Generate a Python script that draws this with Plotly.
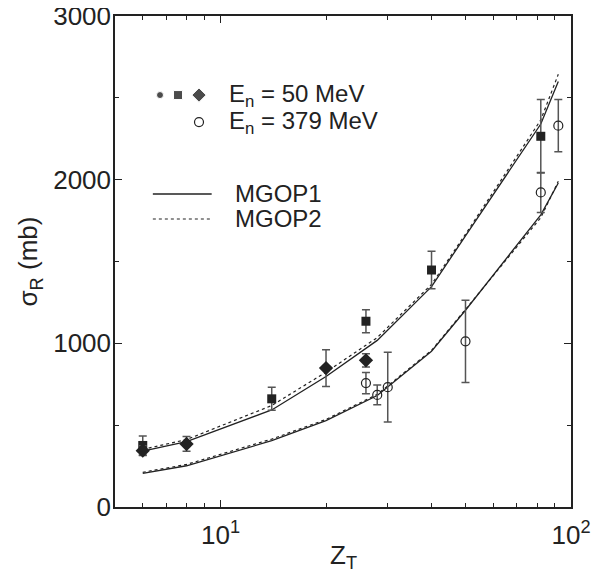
import plotly.graph_objects as go

# ---- data ----
z_dot_50 = [6]
sig_dot_50 = [358]

z_sq_50 = [6, 14, 26, 40, 82]
sig_sq_50 = [376, 661, 1135, 1448, 2265]
err_sq_50 = [58, 70, 70, 115, 225]

z_di_50 = [6, 8, 20, 26]
sig_di_50 = [344, 385, 849, 896]
err_di_50 = [30, 45, 112, 41]

z_ci_379 = [26, 28, 30, 50, 82, 92]
sig_ci_379 = [757, 685, 732, 1012, 1922, 2330]
err_ci_379 = [65, 60, 213, 252, 122, 160]

z_model = [6, 8, 14, 20, 28, 40, 50, 82, 92]
mgop1_50 = [342, 400, 593, 797, 1018, 1346, 1657, 2340, 2600]
mgop2_50 = [352, 412, 620, 824, 1035, 1360, 1667, 2365, 2644]
mgop1_379 = [205, 252, 405, 528, 681, 952, 1202, 1785, 1980]
mgop2_379 = [212, 260, 415, 535, 688, 957, 1207, 1768, 1990]

x_tickvals = [10, 100]
x_ticktext = ["10<sup>1</sup>", "10<sup>2</sup>"]
x_minor = [5, 6, 7, 8, 9, 20, 30, 40, 50, 60, 70, 80, 90]
y_tickvals = [0, 1000, 2000, 3000]

INK = "#222222"
ERR = "#555555"
FONT = "Liberation Sans, Arial, sans-serif"

fig = go.Figure()

# model curves
for y, dash in [(mgop1_50, "solid"), (mgop2_50, "dot"), (mgop1_379, "solid"), (mgop2_379, "dot")]:
    fig.add_trace(go.Scatter(x=z_model, y=y, mode="lines",
                             line=dict(color=INK, width=1.3 if dash == "solid" else 1.2, dash=dash),
                             showlegend=False, hoverinfo="skip"))

def err(e):
    return dict(type="data", array=e, visible=True, color=ERR, thickness=1.5, width=4)

fig.add_trace(go.Scatter(x=z_ci_379, y=sig_ci_379, mode="markers", error_y=err(err_ci_379),
                         marker=dict(symbol="circle-open", size=9, color=INK, line=dict(width=1.2, color=INK)),
                         showlegend=False))
fig.add_trace(go.Scatter(x=z_sq_50, y=sig_sq_50, mode="markers", error_y=err(err_sq_50),
                         marker=dict(symbol="square", size=9, color=INK),
                         showlegend=False))
fig.add_trace(go.Scatter(x=z_di_50, y=sig_di_50, mode="markers", error_y=err(err_di_50),
                         marker=dict(symbol="diamond", size=11, color=INK),
                         showlegend=False))
fig.add_trace(go.Scatter(x=z_dot_50, y=sig_dot_50, mode="markers",
                         marker=dict(symbol="circle", size=7, color=INK),
                         showlegend=False))

# legend (custom) on overlay axes
fig.add_trace(go.Scatter(x=[0.0987, 0.1382, 0.1842], y=[0.839, 0.839, 0.839], mode="markers",
                         marker=dict(symbol=["circle", "square", "diamond"], size=[7, 9, 11], color="#000000"),
                         xaxis="x2", yaxis="y2", showlegend=False, hoverinfo="skip"))
fig.add_trace(go.Scatter(x=[0.1842], y=[0.784], mode="markers",
                         marker=dict(symbol="circle-open", size=9, color=INK, line=dict(width=1.2, color=INK)),
                         xaxis="x2", yaxis="y2", showlegend=False, hoverinfo="skip"))
fig.add_trace(go.Scatter(x=[0.083, 0.212], y=[0.6375, 0.6375], mode="lines",
                         line=dict(color=INK, width=1.3), xaxis="x2", yaxis="y2",
                         showlegend=False, hoverinfo="skip"))
fig.add_trace(go.Scatter(x=[0.083, 0.212], y=[0.5866, 0.5866], mode="lines",
                         line=dict(color=INK, width=1.2, dash="dot"), xaxis="x2", yaxis="y2",
                         showlegend=False, hoverinfo="skip"))

ann_font = dict(family=FONT, size=24, color=INK)
for txt, x, y in [("E<sub>n</sub> = 50 MeV", 0.2456, 0.839),
                  ("E<sub>n</sub> = 379 MeV", 0.2456, 0.784),
                  ("MGOP1", 0.2588, 0.6375),
                  ("MGOP2", 0.2588, 0.5866)]:
    fig.add_annotation(x=x, y=y, xref="x2", yref="y2", text=txt, showarrow=False,
                       xanchor="left", yanchor="middle", font=ann_font)

# x-axis title as annotation (placed just under the tick labels)
fig.add_annotation(x=0.5, y=-0.1, xref="paper", yref="paper", text="Z<sub>T</sub>",
                   showarrow=False, xanchor="center", yanchor="middle",
                   font=dict(family=FONT, size=26, color=INK))

axis_common = dict(showline=True, linecolor=INK, linewidth=1.5, mirror="allticks",
                   ticks="inside", tickcolor=INK, tickwidth=1.3, showgrid=False, zeroline=False,
                   automargin=False, ticklabeloverflow="allow",
                   tickfont=dict(family=FONT, size=26, color=INK))

fig.update_layout(
    width=615, height=573,
    margin=dict(l=107, r=52, t=8, b=74),
    paper_bgcolor="white", plot_bgcolor="white",
    font=dict(family=FONT, size=26, color=INK),
    xaxis=dict(type="log", range=[0.69897, 2], tickvals=x_tickvals, ticktext=x_ticktext,
               ticklen=7, ticklabelstandoff=4,
               minor=dict(tickvals=x_minor, ticks="inside", ticklen=4, tickcolor=INK, tickwidth=1.2),
               **axis_common),
    yaxis=dict(range=[0, 3000], tickvals=y_tickvals, ticklen=7, ticklabelstandoff=-3,
               minor=dict(dtick=500, ticks="inside", ticklen=4, tickcolor=INK, tickwidth=1.2),
               title=dict(text="σ<sub>R</sub> (mb)", font=dict(family=FONT, size=26, color=INK), standoff=8),
               **axis_common),
    xaxis2=dict(overlaying="x", range=[0, 1], visible=False, fixedrange=True),
    yaxis2=dict(overlaying="y", range=[0, 1], visible=False, fixedrange=True),
)

fig.write_html("out.html")
